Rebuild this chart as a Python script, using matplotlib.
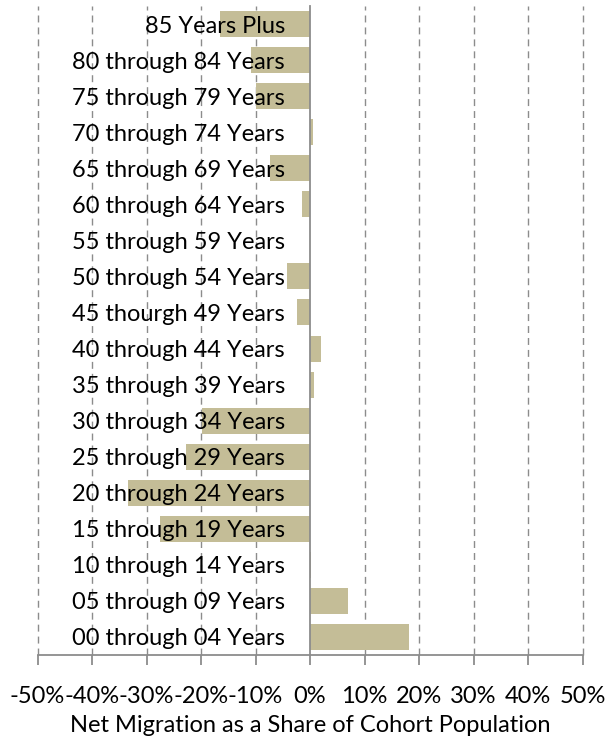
import matplotlib
matplotlib.use('Agg')
import matplotlib.pyplot as plt
from matplotlib.ticker import PercentFormatter, MultipleLocator

plt.rcParams['font.family'] = ['Lato', 'DejaVu Sans']
plt.rcParams['axes.unicode_minus'] = False

# Age cohorts, bottom to top as drawn
cohorts = [
    "00 through 04 Years", "05 through 09 Years", "10 through 14 Years",
    "15 through 19 Years", "20 through 24 Years", "25 through 29 Years",
    "30 through 34 Years", "35 through 39 Years", "40 through 44 Years",
    "45 thourgh 49 Years", "50 through 54 Years", "55 through 59 Years",
    "60 through 64 Years", "65 through 69 Years", "70 through 74 Years",
    "75 through 79 Years", "80 through 84 Years", "85 Years Plus",
]
# Net migration, percent of cohort population
net_migration = [
    18.1, 7.0, 0.1,
    -27.5, -33.4, -22.8,
    -19.9, 0.7, 2.0,
    -2.4, -4.3, 0.0,
    -1.5, -7.3, 0.5,
    -10.0, -10.8, -16.6,
]

bar_color = "#C4BD97"
grid_color = "#8C8C8C"
fsize = 17

fig = plt.figure(figsize=(6.12, 7.38), dpi=100)
ax = fig.add_axes([37.5 / 612, 1 - 655 / 738, 545 / 612, 649 / 738])

ypos = list(range(len(cohorts)))
# bars above the gridlines (zorder 0) but below the axis labels (zorder 1.5)
ax.barh(ypos, net_migration, height=0.72, color=bar_color, zorder=1)

ax.set_xlim(-50, 50)
ax.set_ylim(-0.5, len(cohorts) - 0.5)
ax.xaxis.set_major_locator(MultipleLocator(10))
ax.xaxis.set_major_formatter(PercentFormatter(xmax=100, decimals=0))

# dashed vertical gridlines drawn by hand so they stay under the bars
for xt in ax.get_xticks():
    if xt != 0:
        ax.axvline(xt, color=grid_color, linestyle=(0, (5, 3.6)), linewidth=1,
                   zorder=0, clip_on=False)
ax.grid(False)

for side in ['top', 'right']:
    ax.spines[side].set_visible(False)
ax.spines['left'].set_position(('data', 0))
ax.spines['left'].set_color(grid_color)
ax.spines['left'].set_linewidth(1.3)
ax.spines['bottom'].set_color(grid_color)
ax.spines['bottom'].set_linewidth(1.3)

ax.set_yticks(ypos)
ax.set_yticklabels(cohorts)
ax.tick_params(axis='y', length=0, pad=18, labelsize=fsize)
ax.tick_params(axis='x', direction='out', length=7, width=1.3, color=grid_color,
               pad=15, labelsize=fsize)

ax.set_xlabel("Net Migration as a Share of Cohort Population", fontsize=fsize, labelpad=6)

fig.savefig("out.png", dpi=100)
